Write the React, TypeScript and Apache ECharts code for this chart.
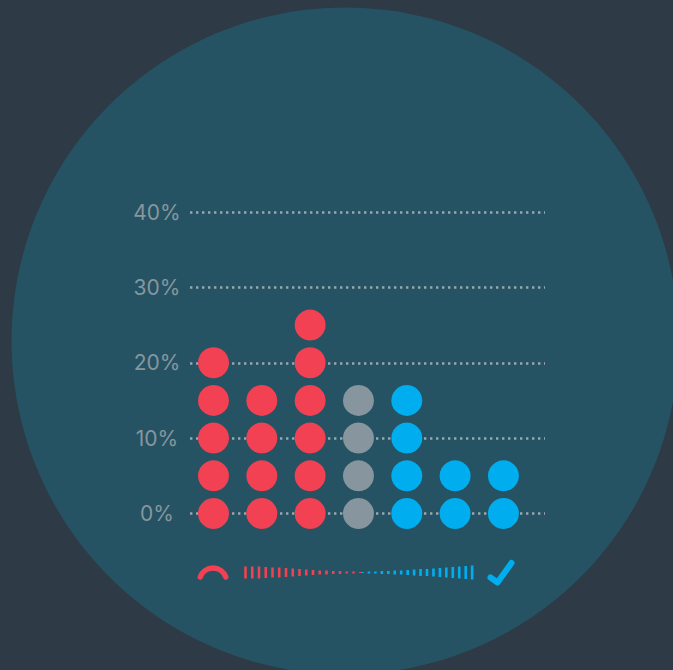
import React, { useEffect, useRef } from "react";
import * as echarts from "echarts";

const yTicks = [0, 10, 20, 30, 40];
const dotStep = 5;
const redCounts = [5, 4, 6];
const greyCounts = [0, 0, 0, 4];
const blueCounts = [0, 0, 0, 0, 4, 2, 2];
const redTickHeights = [12, 12, 12, 11, 10, 10, 9, 8, 7, 6, 5, 4, 4, 3, 3, 2, 2, 1];
const blueTickHeights = [1, 2, 2, 3, 3, 4, 4, 5, 6, 7, 7, 8, 9, 10, 11, 12, 13, 14];

const RED = "#f14152";
const GREY = "#87959f";
const BLUE = "#00aeef";

function dots(counts: number[]) {
  const out: number[][] = [];
  counts.forEach((c, col) => {
    for (let k = 0; k < c; k++) out.push([col, k * dotStep]);
  });
  return out;
}

function tickBars(heights: number[], startX: number, step: number, color: string) {
  return heights.map((h, i) => ({
    type: "rect",
    shape: { x: startX + i * step - 1.3, y: 572.5 - h / 2, width: 2.6, height: h },
    style: { fill: color },
    z: 5,
  }));
}

export default function App() {
  const ref = useRef<HTMLDivElement>(null);
  useEffect(() => {
    document.body.style.margin = "0";
    document.body.style.background = "#2e3a46";
    const chart = echarts.init(ref.current!, null, { renderer: "svg" });
    const scatter = (data: number[][], color: string) => ({
      type: "scatter",
      data,
      symbol: "circle",
      symbolSize: 31,
      itemStyle: { color, opacity: 1 },
      z: 4,
      silent: true,
    });
    chart.setOption({
      animation: false,
      backgroundColor: "#2e3a46",
      grid: { left: 190, right: 128, top: 212, bottom: 156.5 },
      xAxis: {
        type: "value",
        min: -0.486,
        max: 6.86,
        show: false,
      },
      yAxis: {
        type: "value",
        min: 0,
        max: 40,
        interval: 10,
        axisLine: { show: false },
        axisTick: { show: false },
        axisLabel: {
          formatter: (v: number) => (yTicks.includes(v) ? `${v}%` : ""),
          color: "#87969e",
          fontFamily: "Inter",
          fontSize: 21,
          align: "center",
          verticalAlign: "middle",
          margin: 33,
          lineHeight: 21,
          padding: [0, 0, 3, 0],
        },
        splitLine: {
          show: true,
          lineStyle: { color: "#99a7ae", width: 2.5, type: [2.4, 3.6] },
        },
      },
      graphic: [
        {
          type: "circle",
          shape: { cx: 345, cy: 341, r: 333.5 },
          style: { fill: "#255363" },
          z: -10,
        },
        {
          type: "arc",
          shape: {
            cx: 213,
            cy: 581.5,
            r: 13.5,
            startAngle: (200 * Math.PI) / 180,
            endAngle: (340 * Math.PI) / 180,
            clockwise: true,
          },
          style: { stroke: RED, fill: "none", lineWidth: 5.5, lineCap: "round" },
          z: 5,
        },
        ...tickBars(redTickHeights, 245.5, 6.75, RED),
        ...tickBars(blueTickHeights, 362.5, 6.45, BLUE),
        {
          type: "polyline",
          shape: { points: [[490.5, 577.5], [497.5, 582.5], [511.5, 563]] },
          style: { stroke: BLUE, fill: "none", lineWidth: 6, lineCap: "round", lineJoin: "round" },
          z: 5,
        },
      ],
      series: [scatter(dots(redCounts), RED), scatter(dots(greyCounts), GREY), scatter(dots(blueCounts), BLUE)],
    });
    return () => chart.dispose();
  }, []);
  return <div ref={ref} style={{ width: 673, height: 670, overflow: "hidden" }} />;
}
